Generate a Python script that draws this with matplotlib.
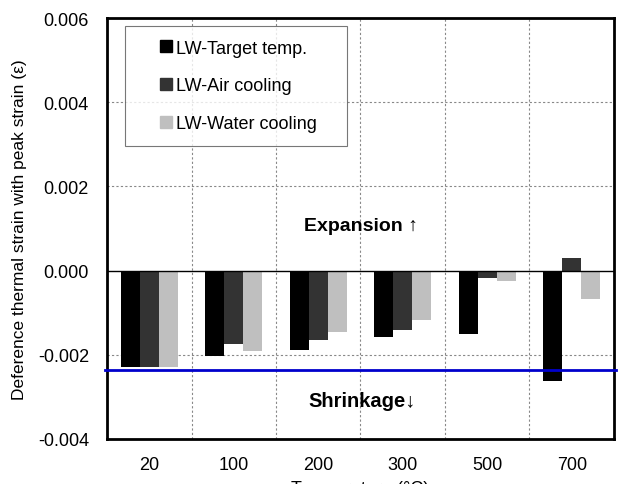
import numpy as np
import matplotlib.pyplot as plt
from matplotlib.lines import Line2D

plt.rcParams['font.family'] = ['Liberation Sans', 'DejaVu Sans']

temps = ['20', '100', '200', '300', '500', '700']
target_temp = [-0.00228, -0.00204, -0.00188, -0.00157, -0.00150, -0.00263]
air_cooling = [-0.00228, -0.00174, -0.00165, -0.00140, -0.00017, 0.00030]
water_cooling = [-0.00228, -0.00192, -0.00147, -0.00117, -0.00024, -0.00067]
shrink_limit = -0.00235

series = ['LW-Target temp.', 'LW-Air cooling', 'LW-Water cooling']
colors = ['#000000', '#333333', '#bfbfbf']

fig = plt.figure(figsize=(6.2, 4.85), dpi=100)
ax = fig.add_axes([0.1726, 0.0928, 0.8177, 0.868])

x = np.arange(len(temps))
w = 0.225
for i, vals in enumerate([target_temp, air_cooling, water_cooling]):
    ax.bar(x + (i - 1) * w, vals, w, color=colors[i], label=series[i], zorder=3)

ax.axhline(0, color='black', lw=1, zorder=4)
ax.axhline(shrink_limit, color='#0000cc', lw=2, zorder=5, clip_on=False,
           xmin=-0.004, xmax=1.004)

# dotted grid: horizontal at ticks, vertical between categories
for yv in [-0.002, 0.002, 0.004]:
    ax.axhline(yv, color='#888888', lw=0.8, ls=(0, (2, 2)), zorder=1)
for xv in np.arange(0.5, len(temps) - 0.5, 1):
    ax.axvline(xv, color='#888888', lw=0.8, ls=(0, (2, 2)), zorder=1)

ax.set_xlim(-0.5, len(temps) - 0.5)
ax.set_ylim(-0.004, 0.006)
ax.set_xticks(x)
ax.set_xticklabels(temps)
ax.set_yticks([-0.004, -0.002, 0.0, 0.002, 0.004, 0.006])
ax.set_yticklabels(['-0.004', '-0.002', '0.000', '0.002', '0.004', '0.006'])
ax.tick_params(axis='both', length=0, labelsize=13)
ax.tick_params(axis='x', pad=12)
ax.tick_params(axis='y', pad=13)
for s in ax.spines.values():
    s.set_linewidth(2)

ax.set_ylabel('Deference thermal strain with peak strain (ε)', fontsize=12.5, labelpad=8)
ax.set_xlabel('Temperature (°C)', fontsize=13, labelpad=5)

ax.text(2.5, 0.00108, 'Expansion ↑', fontsize=14, fontweight='bold',
        ha='center', va='center')
ax.text(2.52, -0.00308, 'Shrinkage↓', fontsize=14.5, fontweight='bold',
        ha='center', va='center')

# square markers sitting indented, like the excel legend
handles = [Line2D([], [], ls='none', marker='s', ms=8.6, color=c) for c in colors]
leg = ax.legend(handles, series, loc='upper left',
                bbox_to_anchor=(0.0355, 0.696, 0.438, 0.285),
                mode='expand', fontsize=13, numpoints=1,
                frameon=True, fancybox=False, edgecolor='#555555',
                handlelength=3.0, handletextpad=-0.95,
                labelspacing=1.15, borderpad=0.75, borderaxespad=0)
leg.get_frame().set_linewidth(0.8)
leg.set_zorder(6)

fig.savefig('out.png', dpi=100)
